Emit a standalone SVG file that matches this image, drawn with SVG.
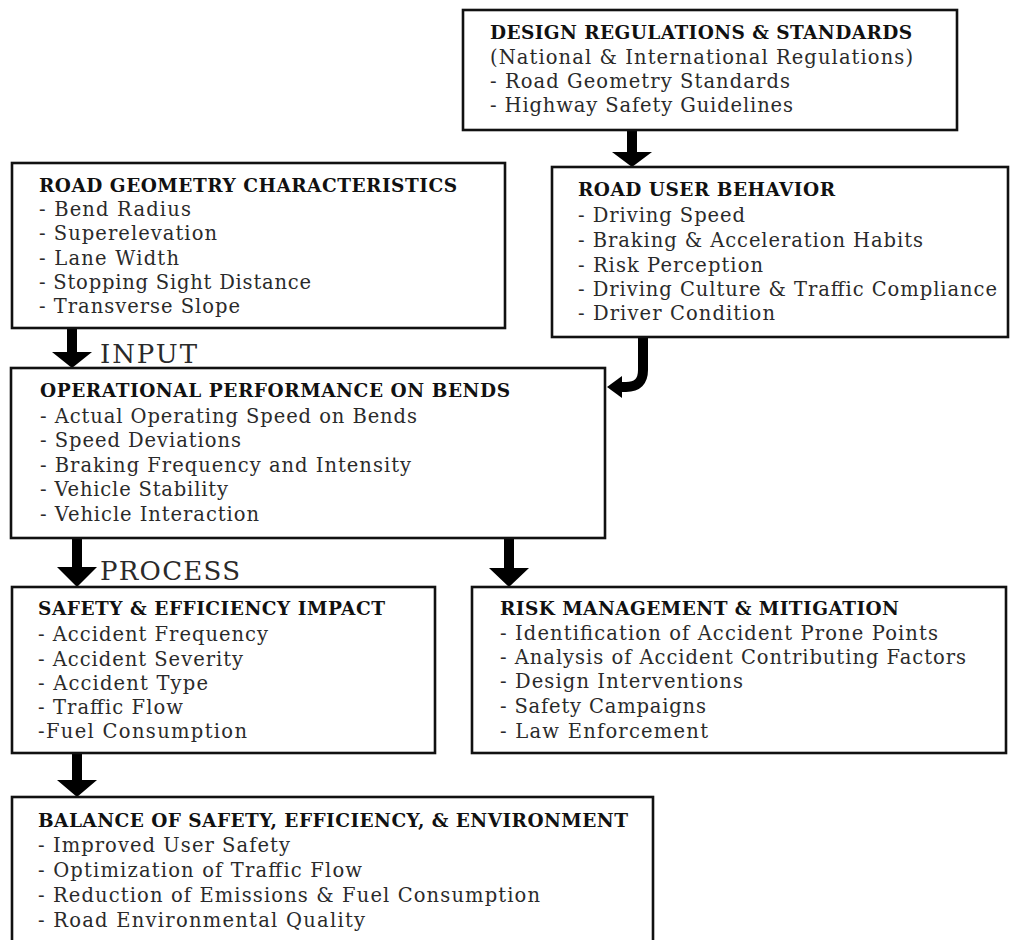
<svg xmlns="http://www.w3.org/2000/svg" width="1011" height="940" viewBox="0 0 1011 940">
<style>
.box{fill:#fff;stroke:#111;stroke-width:2.6}
.t{font-family:"DejaVu Serif","Liberation Serif",serif;font-size:18.5px;font-weight:bold;fill:#111}
.i{font-family:"DejaVu Serif","Liberation Serif",serif;font-size:19.5px;fill:#2a2a2a}
.lbl{font-family:"DejaVu Serif","Liberation Serif",serif;font-size:26px;fill:#2a2a2a}
.arr{fill:#000}
.shaft{fill:none;stroke:#000;stroke-width:10}
</style>
<rect width="1011" height="940" fill="#fff"/>
<g id="connectors">
<path class="arr" d="M627,130 H637 V152 H652 L632,167 L612,152 H627 Z"/>
<path class="arr" d="M67,328 H77 V352 H92 L72,368 L52,352 H67 Z"/>
<path class="shaft" d="M643,337 V370 Q643,387 626,387 H618"/>
<path class="arr" d="M607,387 L622,376 L622,398 Z"/>
<path class="arr" d="M72,538 H82 V567 H97 L77,587 L57,567 H72 Z"/>
<path class="arr" d="M504,538 H514 V568 H529 L509,587 L489,568 H504 Z"/>
<path class="arr" d="M72,753 H82 V780 H97 L77,797 L57,780 H72 Z"/>
<text class="lbl" x="100" y="363" textLength="97">INPUT</text>
<text class="lbl" x="100" y="580" textLength="140">PROCESS</text>
</g>
<g id="design-regulations">
<rect class="box" x="463" y="10" width="494" height="120"/>
<text class="t" x="490" y="39" textLength="422">DESIGN REGULATIONS &amp; STANDARDS</text>
<text class="i" x="490" y="64" textLength="423">(National &amp; International Regulations)</text>
<text class="i" x="490" y="88" textLength="300">- Road Geometry Standards</text>
<text class="i" x="490" y="112" textLength="303">- Highway Safety Guidelines</text>
</g>
<g id="road-geometry">
<rect class="box" x="12" y="163" width="493" height="165"/>
<text class="t" x="39" y="192" textLength="418">ROAD GEOMETRY CHARACTERISTICS</text>
<text class="i" x="39" y="216" textLength="152">- Bend Radius</text>
<text class="i" x="39" y="240" textLength="178">- Superelevation</text>
<text class="i" x="39" y="265" textLength="140">- Lane Width</text>
<text class="i" x="39" y="289" textLength="272">- Stopping Sight Distance</text>
<text class="i" x="39" y="313" textLength="201">- Transverse Slope</text>
</g>
<g id="road-user-behavior">
<rect class="box" x="552" y="167" width="456" height="170"/>
<text class="t" x="578" y="196" textLength="257">ROAD USER BEHAVIOR</text>
<text class="i" x="578" y="222" textLength="167">- Driving Speed</text>
<text class="i" x="578" y="247" textLength="345">- Braking &amp; Acceleration Habits</text>
<text class="i" x="578" y="272" textLength="185">- Risk Perception</text>
<text class="i" x="578" y="296" textLength="419">- Driving Culture &amp; Traffic Compliance</text>
<text class="i" x="578" y="320" textLength="197">- Driver Condition</text>
</g>
<g id="operational-performance">
<rect class="box" x="11" y="368" width="594" height="170"/>
<text class="t" x="40" y="397" textLength="470">OPERATIONAL PERFORMANCE ON BENDS</text>
<text class="i" x="40" y="423" textLength="377">- Actual Operating Speed on Bends</text>
<text class="i" x="40" y="447" textLength="201">- Speed Deviations</text>
<text class="i" x="40" y="472" textLength="371">- Braking Frequency and Intensity</text>
<text class="i" x="40" y="496" textLength="188">- Vehicle Stability</text>
<text class="i" x="40" y="521" textLength="219">- Vehicle Interaction</text>
</g>
<g id="safety-efficiency">
<rect class="box" x="12" y="587" width="423" height="166"/>
<text class="t" x="38" y="615" textLength="347">SAFETY &amp; EFFICIENCY IMPACT</text>
<text class="i" x="38" y="641" textLength="230">- Accident Frequency</text>
<text class="i" x="38" y="666" textLength="205">- Accident Severity</text>
<text class="i" x="38" y="690" textLength="170">- Accident Type</text>
<text class="i" x="38" y="714" textLength="145">- Traffic Flow</text>
<text class="i" x="38" y="738" textLength="209">-Fuel Consumption</text>
</g>
<g id="risk-management">
<rect class="box" x="472" y="587" width="534" height="166"/>
<text class="t" x="500" y="615" textLength="399">RISK MANAGEMENT &amp; MITIGATION</text>
<text class="i" x="500" y="640" textLength="438">- Identification of Accident Prone Points</text>
<text class="i" x="500" y="664" textLength="466">- Analysis of Accident Contributing Factors</text>
<text class="i" x="500" y="688" textLength="243">- Design Interventions</text>
<text class="i" x="500" y="713" textLength="206">- Safety Campaigns</text>
<text class="i" x="500" y="738" textLength="208">- Law Enforcement</text>
</g>
<g id="balance">
<rect class="box" x="12" y="797" width="641" height="170"/>
<text class="t" x="38" y="827" textLength="590">BALANCE OF SAFETY, EFFICIENCY, &amp; ENVIRONMENT</text>
<text class="i" x="38" y="852" textLength="252">- Improved User Safety</text>
<text class="i" x="38" y="877" textLength="324">- Optimization of Traffic Flow</text>
<text class="i" x="38" y="902" textLength="502">- Reduction of Emissions &amp; Fuel Consumption</text>
<text class="i" x="38" y="927" textLength="327">- Road Environmental Quality</text>
</g>
</svg>
